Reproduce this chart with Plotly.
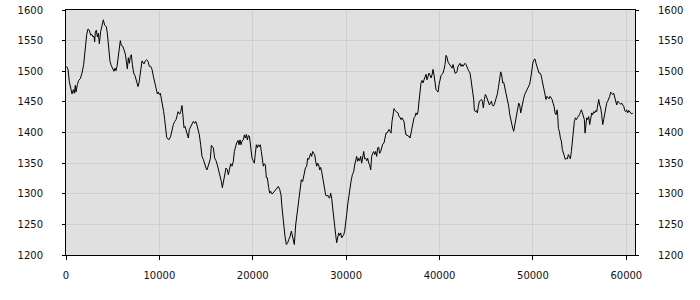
import plotly.graph_objects as go

x_values = [
    72, 215, 357, 500, 643, 786, 893, 1000, 1071, 1214, 1357, 1536, 1714, 1893, 2071, 2214, 2357, 2499, 2642, 2785,
    2892, 2999, 3070, 3142, 3249, 3356, 3463, 3570, 3713, 3856, 3999, 4141, 4320, 4427, 4570, 4712, 4855, 4998, 5141, 5248,
    5355, 5462, 5569, 5712, 5819, 5926, 6069, 6212, 6354, 6461, 6568, 6675, 6782, 6890, 6997, 7104, 7247, 7390, 7497, 7604,
    7711, 7818, 7925, 8032, 8139, 8246, 8353, 8496, 8639, 8782, 8925, 9068, 9210, 9353, 9496, 9639, 9782, 9889, 9996, 10103,
    10210, 10353, 10460, 10567, 10674, 10781, 10924, 11067, 11209, 11352, 11495, 11638, 11781, 11923, 11994,
    12173, 12280, 12422, 12530, 12637, 12744, 12851, 12994, 13101, 13208, 13351, 13493, 13636, 13779, 13886, 13993, 14136, 14279, 14421,
    14564, 14707, 14850, 14992, 15100, 15207, 15349, 15457, 15564, 15671, 15778, 15921, 16063, 16206, 16349, 16492, 16635, 16742, 16849,
    16992, 17134, 17277, 17384, 17491, 17634, 17777, 17920, 18027, 18134, 18277, 18419, 18527, 18634, 18741, 18848, 18991, 19098, 19205,
    19312, 19419, 19526, 19633, 19705, 19812, 19919, 20062, 20169, 20276, 20383, 20490, 20597, 20704, 20811, 20918, 21025, 21132, 21239,
    21347, 21454, 21561, 21704, 21811, 21918, 22025, 22168, 22311, 22454, 22596, 22739, 22882, 23025, 23132, 23239, 23346, 23453, 23596,
    23738, 23845, 23988, 24131, 24238, 24345, 24452,
    24595, 24773, 24916, 25059, 25201, 25344, 25487, 25630, 25773, 25880, 25987, 26094, 26201, 26308, 26415, 26522, 26629, 26736, 26843,
    26950, 27058, 27165, 27272, 27379, 27486, 27593, 27700, 27807, 27914, 28021, 28129, 28236, 28343, 28450, 28557, 28664, 28771, 28878,
    28985, 29092, 29199, 29306, 29414, 29521, 29628, 29735, 29842, 29949, 30056, 30163, 30270, 30377, 30520, 30663, 30806, 30913, 31020,
    31127, 31234, 31341, 31448, 31555, 31663, 31770, 31877, 31984, 32091, 32198, 32305, 32412, 32519, 32626, 32733, 32840, 32947, 33055,
    33162, 33269, 33376, 33483, 33590, 33697, 33804, 33911, 34054, 34161, 34268, 34375, 34483, 34590, 34697, 34804, 34911, 35018, 35125,
    35232, 35339, 35446, 35553, 35661, 35768, 35875, 35982, 36089, 36196, 36303, 36410, 36517, 36624, 36732, 36839,
    36946, 37053, 37160, 37267, 37374, 37482, 37589, 37696, 37803, 37910, 38017, 38124, 38231, 38338, 38445, 38553, 38660, 38767, 38874,
    38981, 39088, 39195, 39302, 39409, 39516, 39623, 39731, 39838, 39945, 40052, 40159, 40266, 40373, 40480, 40587, 40694, 40802, 40909,
    41016, 41123, 41230, 41337, 41444, 41551, 41658, 41765, 41872, 41980, 42087, 42194, 42301, 42408, 42515, 42622, 42729, 42836, 42944,
    43051, 43158, 43265, 43372, 43479, 43586, 43658, 43729, 43836, 43943, 44050, 44157, 44264, 44371, 44478, 44586, 44693, 44800, 44907,
    45014, 45121, 45228, 45335, 45442, 45549, 45656, 45763, 45870, 45978, 46085, 46192, 46299, 46406, 46477, 46549, 46656, 46763, 46870,
    46977, 47084, 47191, 47298, 47405, 47512, 47619, 47727, 47834, 47941, 48048, 48155, 48262, 48369, 48476, 48583, 48690, 48797, 48904,
    49012, 49119, 49226, 49333, 49440, 49547, 49654,
    49797, 49904, 50011, 50118, 50225, 50332, 50439, 50546, 50654, 50761, 50868, 50975, 51082, 51189, 51296, 51403, 51510, 51617, 51725,
    51832, 51939, 52046, 52153, 52260, 52367, 52474, 52581, 52653, 52724, 52831, 52938, 53045, 53152, 53259, 53366, 53474, 53581, 53688,
    53795, 53902, 54009, 54116, 54223, 54330, 54437, 54545, 54652, 54759, 54866, 54973, 55080, 55187, 55294, 55401, 55508, 55580, 55651,
    55758, 55865, 55972, 56079, 56187, 56294, 56401, 56508, 56615, 56722, 56829, 56936, 57043, 57150, 57258, 57365, 57472, 57579, 57686,
    57793, 57900, 58007, 58114, 58221, 58329, 58436, 58543, 58650, 58757, 58864, 58971, 59078, 59185, 59292, 59400, 59507, 59614, 59721,
    59828, 59935, 60042, 60149, 60256, 60363, 60470, 60577, 60684,
]

y_values = [
    1508, 1503, 1483, 1470, 1463, 1470, 1464, 1477, 1466, 1478, 1485, 1488, 1497, 1511, 1543, 1560, 1569, 1567, 1559, 1560,
    1556, 1557, 1548, 1564, 1567, 1556, 1562, 1545, 1565, 1577, 1584, 1575, 1573, 1562, 1538, 1516, 1509, 1505, 1500, 1505,
    1501, 1508, 1522, 1538, 1550, 1542, 1541, 1535, 1528, 1516, 1504, 1522, 1513, 1524, 1527, 1511, 1497, 1493, 1486, 1483,
    1475, 1481, 1500, 1505, 1517, 1513, 1512, 1517, 1519, 1516, 1508, 1508, 1503, 1492, 1483, 1475, 1463, 1466, 1462, 1464,
    1456, 1448, 1434, 1421, 1407, 1392, 1389, 1389, 1394, 1405, 1413, 1418, 1421, 1429, 1434,
    1430, 1434, 1444, 1426, 1408, 1410, 1405, 1399, 1391, 1405, 1410, 1414, 1418, 1415, 1418, 1414, 1407, 1396, 1380,
    1361, 1356, 1347, 1342, 1339, 1345, 1349, 1357, 1379, 1377, 1375, 1358, 1354, 1347, 1339, 1331, 1320, 1310, 1320,
    1331, 1342, 1339, 1331, 1339, 1349, 1345, 1353, 1369, 1377, 1383, 1387, 1380, 1388, 1380, 1386, 1388, 1396, 1391,
    1397, 1388, 1395, 1394, 1386, 1369, 1358, 1353, 1350, 1366, 1380, 1375, 1380, 1377, 1380, 1369, 1358, 1345, 1349,
    1347, 1326, 1326, 1310, 1301, 1304, 1300, 1301, 1304, 1307, 1309, 1312, 1307, 1298, 1277, 1260, 1244, 1230, 1217,
    1220, 1225, 1230, 1239, 1233, 1225, 1217,
    1249, 1271, 1293, 1312, 1323, 1320, 1331, 1342, 1345, 1358, 1356, 1363, 1366, 1361, 1369, 1366, 1364, 1353, 1345,
    1350, 1347, 1339, 1343, 1336, 1326, 1312, 1304, 1298, 1296, 1298, 1294, 1293, 1301, 1293, 1277, 1260, 1239, 1233,
    1220, 1228, 1236, 1232, 1236, 1228, 1230, 1233, 1239, 1249, 1266, 1282, 1296, 1309, 1320, 1331, 1336, 1347, 1356,
    1361, 1353, 1358, 1354, 1361, 1350, 1358, 1369, 1357, 1358, 1354, 1358, 1350, 1347, 1339, 1361, 1366, 1369, 1364,
    1369, 1361, 1375, 1376, 1366, 1369, 1375, 1381, 1383, 1391, 1399, 1399, 1402, 1405, 1402, 1399, 1418, 1429, 1439,
    1436, 1434, 1433, 1432, 1426, 1425, 1421, 1424, 1421, 1418, 1405, 1396, 1396, 1394, 1394, 1391,
    1399, 1410, 1421, 1424, 1426, 1432, 1429, 1434, 1451, 1470, 1481, 1485, 1481, 1486, 1492, 1495, 1486, 1490, 1497,
    1494, 1489, 1494, 1503, 1494, 1478, 1470, 1468, 1466, 1478, 1489, 1493, 1495, 1497, 1503, 1511, 1526, 1523, 1515,
    1512, 1511, 1508, 1505, 1511, 1500, 1497, 1497, 1500, 1508, 1512, 1513, 1508, 1511, 1508, 1512, 1513, 1511, 1505,
    1503, 1500, 1497, 1486, 1475, 1464, 1454, 1436, 1434, 1436, 1432, 1443, 1451, 1452, 1454, 1451, 1440, 1454, 1462,
    1459, 1455, 1451, 1445, 1448, 1451, 1445, 1443, 1446, 1451, 1456, 1463, 1473, 1486, 1497, 1499, 1494, 1481, 1482,
    1475, 1467, 1462, 1454, 1443, 1430, 1421, 1415, 1407, 1402, 1410, 1421, 1429, 1440, 1448, 1445, 1432, 1440, 1451,
    1456, 1462, 1466, 1470, 1473, 1478, 1479,
    1492, 1508, 1515, 1519, 1520, 1513, 1508, 1503, 1497, 1497, 1494, 1486, 1478, 1473, 1466, 1454, 1459, 1457, 1455,
    1459, 1457, 1454, 1448, 1443, 1432, 1429, 1437, 1429, 1407, 1402, 1391, 1386, 1372, 1366, 1361, 1356, 1358, 1357,
    1364, 1361, 1357, 1369, 1386, 1396, 1418, 1424, 1421, 1424, 1426, 1429, 1433, 1437, 1432, 1426, 1421, 1399, 1415,
    1424, 1421, 1426, 1413, 1421, 1432, 1429, 1434, 1432, 1436, 1434, 1443, 1454, 1445, 1440, 1429, 1413, 1421, 1429,
    1443, 1448, 1451, 1454, 1459, 1466, 1464, 1462, 1464, 1456, 1451, 1445, 1451, 1450, 1448, 1446, 1448, 1445, 1443,
    1436, 1434, 1437, 1432, 1436, 1434, 1432, 1430, 1432,
]

x_ticks = [0, 10000, 20000, 30000, 40000, 50000, 60000]
y_ticks = [1200, 1250, 1300, 1350, 1400, 1450, 1500, 1550, 1600]

x_range = [0, 60930]
y_range = [1200, 1600]

font = dict(family="DejaVu Sans", size=10, color="#111111")

fig = go.Figure()
fig.add_trace(go.Scatter(
    x=x_values, y=y_values, mode="lines",
    line=dict(color="#000000", width=1),
    hoverinfo="skip", showlegend=False,
))
fig.add_trace(go.Scatter(
    x=x_values, y=y_values, mode="lines", yaxis="y2",
    line=dict(color="rgba(0,0,0,0)", width=0),
    hoverinfo="skip", showlegend=False,
))

fig.update_layout(
    width=700, height=300,
    margin=dict(l=66, r=65, t=10, b=45, autoexpand=False),
    paper_bgcolor="#ffffff",
    plot_bgcolor="#e0e0e0",
    font=font,
    showlegend=False,
    xaxis=dict(
        range=x_range, tickvals=x_ticks, ticktext=[str(v) for v in x_ticks],
        showline=True, linecolor="#000000", linewidth=1, mirror=True,
        ticks="outside", ticklen=4, tickcolor="#000000", tickwidth=1,
        showgrid=True, gridcolor="#cfcfcf", gridwidth=1, zeroline=False,
        ticklabelstandoff=7, tickfont=font, automargin=False,
    ),
    yaxis=dict(
        range=y_range, tickvals=y_ticks, ticktext=[str(v) for v in y_ticks],
        showline=True, linecolor="#000000", linewidth=1, mirror=True,
        ticks="outside", ticklen=3, tickcolor="#000000", tickwidth=1,
        showgrid=True, gridcolor="#cfcfcf", gridwidth=1, zeroline=False,
        ticklabelstandoff=17, tickfont=font, automargin=False,
    ),
    yaxis2=dict(
        range=y_range, tickvals=y_ticks, ticktext=[str(v) for v in y_ticks],
        overlaying="y", side="right",
        showline=False, ticks="outside", ticklen=3, tickcolor="#000000", tickwidth=1,
        showgrid=False, zeroline=False, ticklabelstandoff=17, tickfont=font,
        automargin=False,
    ),
)

fig.write_html("out.html")
